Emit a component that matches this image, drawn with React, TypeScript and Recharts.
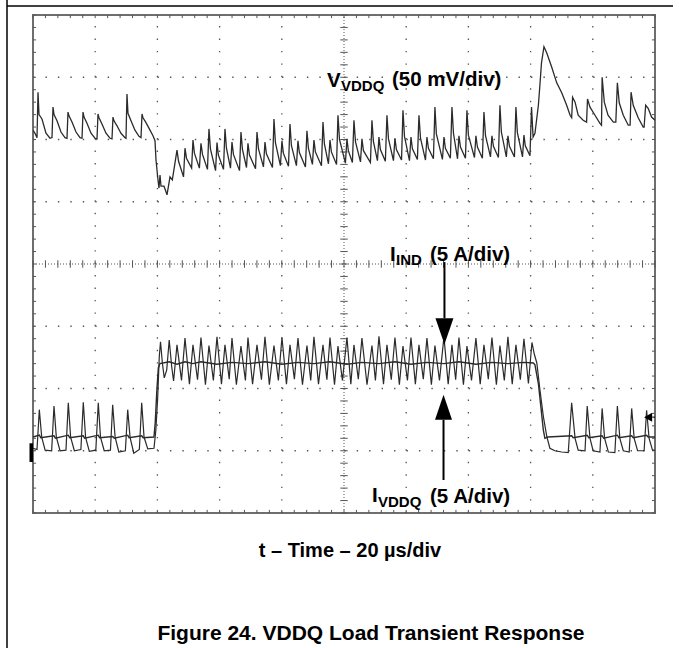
import React from 'react';
import { LineChart, Line, XAxis, YAxis, ReferenceLine, ReferenceArea } from 'recharts';

// scope screen: time in µs (20 µs/div, 10 div), traces in screen divisions (8 div)
const X_MAJOR = [20, 40, 60, 80, 120, 140, 160, 180];
const Y_MAJOR = [1, 2, 3, 5, 6, 7];
const X_MINOR = Array.from({ length: 51 }, (_, i) => i * 4);
const Y_MINOR = Array.from({ length: 41 }, (_, i) => Math.round(i * 2) / 10);

// V(VDDQ), 50 mV/div
const V_LIGHT_PRE = [
  [0, 6.15], [0.64, 6.1], [1.29, 6.03], [1.61, 6.76], [1.93, 6.4], [2.89, 6.33], [4.18, 6.1], [5.47, 6.02],
  [6.11, 6.03], [6.43, 6.52], [6.75, 6.4], [7.72, 6.3], [9.0, 6.12], [10.29, 6.03], [10.93, 6.02],
  [11.25, 6.44], [11.57, 6.38], [12.54, 6.28], [13.83, 6.12], [15.11, 6.03], [15.76, 6.02],
  [16.08, 6.44], [16.4, 6.36], [17.36, 6.26], [18.65, 6.1], [19.93, 6.02], [20.58, 6.01],
  [20.9, 6.41], [21.22, 6.35], [22.18, 6.25], [23.47, 6.1], [24.76, 6.02], [25.4, 6.01],
  [25.72, 6.36], [26.04, 6.3], [27.01, 6.22], [28.29, 6.1], [29.58, 6.03], [29.9, 6.02],
  [30.22, 6.73], [30.54, 6.42], [31.51, 6.3], [32.79, 6.15], [34.08, 6.05], [34.73, 6.03],
  [35.05, 6.41], [35.37, 6.35], [36.33, 6.27], [37.62, 6.15], [38.58, 6.06], [39.23, 5.98],
];
const V_LOAD_STEP = [
  [39.55, 5.67], [40.19, 5.35], [40.51, 5.22], [40.84, 5.43], [41.16, 5.25], [42.12, 5.25],
  [42.76, 5.16], [43.09, 5.11], [44.05, 5.4], [44.8, 5.35],
];
const V_HEAVY = [
  [46.3, 5.83], [46.8, 5.65], [48.4, 5.4], [48.87, 5.86], [49.35, 5.7], [51.0, 5.54],
  [51.44, 5.99], [51.9, 5.78], [53.5, 5.54], [54.01, 5.94], [54.5, 5.76], [56.1, 5.52],
  [56.58, 6.17], [57.05, 5.85], [58.7, 5.5], [59.16, 5.95], [59.6, 5.75], [61.25, 5.52],
  [61.73, 6.17], [62.2, 5.86], [63.5, 5.54], [63.98, 5.96], [64.45, 5.76], [66.4, 5.5],
  [66.87, 6.12], [67.35, 5.84], [68.65, 5.55], [69.12, 5.94], [69.6, 5.75], [71.55, 5.53],
  [72.02, 6.12], [72.5, 5.85], [74.1, 5.56], [74.59, 5.96], [75.05, 5.77], [77.0, 5.55],
  [77.48, 6.33], [77.95, 5.95], [79.55, 5.58], [80.05, 5.98], [80.5, 5.78], [82.15, 5.57],
  [82.63, 6.25], [83.1, 5.9], [84.7, 5.58], [85.2, 5.98], [85.65, 5.79], [87.6, 5.56],
  [88.09, 6.14], [88.55, 5.86], [89.85, 5.6], [90.34, 5.99], [90.8, 5.8], [92.75, 5.58],
  [93.24, 6.28], [93.7, 5.93], [95.0, 5.61], [95.49, 5.99], [95.95, 5.8], [97.6, 5.6],
  [98.06, 6.39], [98.55, 6.0], [100.45, 5.62], [100.95, 6.01], [101.4, 5.82], [102.7, 5.63],
  [103.2, 6.31], [103.7, 5.96], [105.3, 5.64], [105.77, 6.01], [106.25, 5.82], [108.5, 5.63],
  [108.99, 6.31], [109.45, 5.97], [110.75, 5.66], [111.24, 6.04], [111.7, 5.84], [113.3, 5.65],
  [113.81, 6.39], [114.3, 6.01], [115.9, 5.66], [116.38, 6.02], [116.85, 5.84], [118.5, 5.67],
  [118.96, 6.47], [119.45, 6.05], [121.05, 5.66], [121.53, 6.04], [122.0, 5.85], [123.6, 5.68],
  [124.1, 6.39], [124.6, 6.02], [126.2, 5.67], [126.67, 6.04], [127.15, 5.86], [128.75, 5.69],
  [129.24, 6.52], [129.7, 6.09], [131.65, 5.68], [132.14, 6.04], [132.6, 5.86], [134.2, 5.7],
  [134.71, 6.52], [135.2, 6.1], [136.5, 5.69], [136.96, 6.06], [137.45, 5.88], [139.05, 5.7],
  [139.53, 6.47], [140.0, 6.07], [141.95, 5.71], [142.42, 6.06], [142.9, 5.88], [144.5, 5.7],
  [145.0, 6.44], [145.5, 6.06], [147.1, 5.72], [147.57, 6.06], [148.05, 5.89], [149.65, 5.71],
  [150.14, 6.55], [150.6, 6.12], [152.2, 5.72], [152.71, 6.06], [153.2, 5.89], [154.8, 5.72],
  [155.28, 6.52], [155.75, 6.11], [157.4, 5.72], [157.86, 6.07], [158.3, 5.9], [159.8, 5.74],
];
const V_RELEASE = [
  [160.3, 6.52], [160.8, 6.04], [161.4, 6.1], [162.5, 6.55], [163.0, 6.88], [163.5, 7.23],
  [164.3, 7.49], [165.2, 7.39], [166.8, 7.16], [168.4, 6.91], [170.0, 6.75], [171.6, 6.55],
  [172.7, 6.39], [173.2, 6.35], [173.5, 6.68], [174.3, 6.6], [175.3, 6.39], [176.9, 6.31],
  [178.0, 6.28], [178.3, 6.65], [179.1, 6.52], [180.7, 6.39], [182.3, 6.26], [182.8, 6.23],
  [183.0, 7.0], [183.7, 6.6], [184.9, 6.39], [186.6, 6.28], [187.4, 6.28], [187.9, 6.91],
  [188.5, 6.59], [189.8, 6.39], [191.4, 6.23], [192.0, 6.23], [192.3, 6.76], [193.0, 6.55],
  [194.6, 6.35], [196.2, 6.2], [196.5, 6.2], [197.0, 6.55], [197.8, 6.5], [198.9, 6.36], [200, 6.31],
];

// I(IND), 5 A/div
const IND_LIGHT_PRE = [
  [0, 1.04], [1.29, 1.02], [2.03, 1.66], [2.8, 1.22], [3.9, 1.01], [6.0, 1.0], [6.75, 1.72],
  [7.5, 1.22], [8.7, 1.0], [10.6, 1.01], [11.35, 1.77], [12.1, 1.22], [13.3, 1.0], [15.4, 1.02],
  [16.17, 1.78], [16.9, 1.22], [18.1, 0.99], [20.2, 1.01], [20.99, 1.77], [21.7, 1.22], [22.9, 1.0],
  [24.9, 1.01], [25.62, 1.74], [26.4, 1.22], [27.6, 0.98], [29.7, 1.0], [30.45, 1.66], [31.2, 1.22],
  [32.4, 0.96], [34.2, 1.02], [34.95, 1.77], [35.7, 1.22], [36.9, 1.03], [38.9, 1.04],
];
const IND_STEP_UP = [
  [39.5, 1.33], [40.1, 1.86], [40.6, 2.51], [41.0, 2.75], [41.6, 2.41], [42.2, 2.17], [43.0, 2.3],
  [43.8, 2.78], [44.6, 2.35], [45.2, 2.12],
];
const IND_HEAVY = [
  [46.3, 2.7], [47.75, 2.13], [48.87, 2.81], [50.3, 2.07], [51.44, 2.7], [52.9, 2.14],
  [54.01, 2.82], [55.45, 2.06], [56.58, 2.69], [58.0, 2.13], [59.16, 2.83], [60.6, 2.07],
  [61.73, 2.7], [63.1, 2.15], [63.98, 2.81], [65.4, 2.06], [66.87, 2.68], [68.3, 2.13],
  [69.12, 2.82], [70.6, 2.07], [72.02, 2.7], [73.45, 2.14], [74.59, 2.83], [76.0, 2.06],
  [77.48, 2.69], [78.9, 2.13], [80.05, 2.82], [81.5, 2.07], [82.63, 2.7], [84.05, 2.15],
  [85.2, 2.81], [86.65, 2.06], [88.09, 2.69], [89.3, 2.13], [90.34, 2.83], [91.8, 2.07],
  [93.24, 2.7], [94.5, 2.14], [95.49, 2.82], [96.95, 2.06], [98.06, 2.68], [99.5, 2.13],
  [100.95, 2.82], [102.2, 2.07], [103.2, 2.7], [104.6, 2.15], [105.77, 2.81], [107.4, 2.06],
  [108.99, 2.69], [110.1, 2.13], [111.24, 2.84], [112.7, 2.07], [113.81, 2.7], [115.2, 2.14],
  [116.38, 2.82], [117.8, 2.06], [118.96, 2.68], [120.4, 2.13], [121.53, 2.82], [122.95, 2.07],
  [124.1, 2.7], [125.5, 2.15], [126.67, 2.81], [128.1, 2.06], [129.24, 2.69], [130.7, 2.13],
  [132.14, 2.83], [133.5, 2.07], [134.71, 2.7], [135.9, 2.14], [136.96, 2.82], [138.4, 2.06],
  [139.53, 2.68], [141.0, 2.13], [142.42, 2.81], [143.8, 2.07], [145.0, 2.7], [146.4, 2.15],
  [147.57, 2.82], [149.0, 2.06], [150.14, 2.69], [151.55, 2.13], [152.71, 2.83], [154.1, 2.07],
  [155.28, 2.7], [156.7, 2.14], [157.86, 2.8], [159.3, 2.08], [160.43, 2.74],
];
const IND_STEP_DOWN = [
  [161.2, 2.55], [162.0, 2.41], [163.0, 1.98], [164.1, 1.55], [165.2, 1.23], [166.2, 1.04],
  [167.8, 1.0], [170.0, 0.98], [172.1, 0.97],
];
const IND_LIGHT_POST = [
  [173.2, 1.77], [174.3, 1.2], [175.3, 1.01], [177.5, 1.0], [178.2, 1.72], [179.1, 1.2], [180.1, 1.0],
  [182.3, 0.98], [183.0, 1.68], [183.8, 1.2], [185.0, 0.98], [187.1, 0.97], [187.9, 1.72], [188.7, 1.2],
  [189.8, 1.0], [191.7, 0.98], [192.5, 1.68], [193.3, 1.2], [194.4, 1.0], [196.5, 1.0], [197.3, 1.65],
  [198.1, 1.2], [199.2, 1.01], [200, 1.01],
];

// I(VDDQ), 5 A/div
const LOAD_PRE = [
  [0, 1.22], [2.03, 1.25], [2.5, 1.21], [6.75, 1.24], [7.2, 1.2], [11.35, 1.25], [11.8, 1.21],
  [16.17, 1.24], [16.6, 1.2], [20.99, 1.25], [21.4, 1.21], [25.62, 1.23], [26.1, 1.2], [30.45, 1.25],
  [30.9, 1.21], [34.95, 1.24], [35.4, 1.21], [38.9, 1.22],
];
const LOAD_STEP_UP = [[39.3, 1.45], [39.8, 1.95], [40.3, 2.33], [40.8, 2.4]];
const LOAD_HIGH = [
  [43.8, 2.43], [46.3, 2.39], [48.87, 2.43], [51.44, 2.4], [54.01, 2.43], [59.16, 2.39], [63.98, 2.42],
  [69.12, 2.4], [74.59, 2.43], [80.05, 2.39], [85.2, 2.42], [90.34, 2.4], [95.49, 2.43], [100.95, 2.39],
  [105.77, 2.42], [111.24, 2.4], [116.38, 2.43], [121.53, 2.39], [126.67, 2.42], [132.14, 2.4],
  [136.96, 2.43], [142.42, 2.39], [147.57, 2.42], [152.71, 2.4], [157.86, 2.42], [160.9, 2.41],
];
const LOAD_STEP_DOWN = [[161.4, 2.38], [162.5, 2.08], [163.3, 1.71], [164.1, 1.33], [164.6, 1.2]];
const LOAD_POST = [
  [165.5, 1.22], [173.2, 1.24], [173.7, 1.21], [178.2, 1.25], [178.7, 1.21], [183.0, 1.24], [183.5, 1.2],
  [187.9, 1.25], [188.4, 1.21], [192.5, 1.24], [193.0, 1.21], [197.3, 1.25], [197.8, 1.22], [200, 1.22],
];

const toPts = (pairs: number[][]) => pairs.map(([t, v]) => ({ t, v }));

const VDDQ = toPts([...V_LIGHT_PRE, ...V_LOAD_STEP, ...V_HEAVY, ...V_RELEASE]);
const IND = toPts([...IND_LIGHT_PRE, ...IND_STEP_UP, ...IND_HEAVY, ...IND_STEP_DOWN, ...IND_LIGHT_POST]);
const LOAD = toPts([...LOAD_PRE, ...LOAD_STEP_UP, ...LOAD_HIGH, ...LOAD_STEP_DOWN, ...LOAD_POST]);

const TRACE = '#2b2b2b';
const GRID = '#555';
const FONT = '"Liberation Sans", Arial, Helvetica, sans-serif';

const arrowShape = (head: number, half: number, width: number) => (p: any) => {
  const { x1, y1, x2, y2 } = p;
  const len = Math.hypot(x2 - x1, y2 - y1) || 1;
  const ux = (x2 - x1) / len;
  const uy = (y2 - y1) / len;
  const bx = x2 - ux * head;
  const by = y2 - uy * head;
  const pts = `${x2},${y2} ${bx - uy * half},${by + ux * half} ${bx + uy * half},${by - ux * half}`;
  return (
    <g>
      <line x1={x1} y1={y1} x2={bx} y2={by} stroke="#000" strokeWidth={width} />
      <polygon points={pts} fill="#000" />
    </g>
  );
};

const channelMarker = (p: any) => (
  <rect x={p.x1 - 3.5} y={Math.min(p.y1, p.y2)} width={3.5} height={Math.abs(p.y2 - p.y1)} fill="#000" />
);

const tickLine = (key: string, a: { x: number; y: number }, b: { x: number; y: number }) => (
  <ReferenceLine key={key} segment={[a, b]} stroke={GRID} strokeWidth={1} />
);

export default function App() {
  return (
    <div style={{ position: 'absolute', left: 0, top: 0, width: 679, height: 648, background: '#fff' }}>
      <LineChart width={679} height={648} margin={{ top: 15, right: 24, bottom: 135, left: 33 }}>
        <XAxis dataKey="t" type="number" domain={[0, 200]} allowDataOverflow hide />
        <YAxis type="number" domain={[0, 8]} allowDataOverflow hide />

        {X_MAJOR.map((t) => (
          <ReferenceLine key={`gx${t}`} x={t} stroke={GRID} strokeWidth={1.3} strokeDasharray="1.4 11.05" />
        ))}
        {Y_MAJOR.map((v) => (
          <ReferenceLine key={`gy${v}`} y={v} stroke={GRID} strokeWidth={1.3} strokeDasharray="1.4 11.05" />
        ))}
        <ReferenceLine x={100} stroke={GRID} strokeWidth={1} strokeDasharray="1 2" />
        <ReferenceLine y={4} stroke={GRID} strokeWidth={1} strokeDasharray="1 2" />

        {X_MINOR.map((t) => tickLine(`cx${t}`, { x: t, y: 3.94 }, { x: t, y: 4.06 }))}
        {Y_MINOR.map((v) => tickLine(`cy${v}`, { x: 98.8, y: v }, { x: 101.2, y: v }))}
        {X_MINOR.map((t) => tickLine(`tx${t}`, { x: t, y: 8 }, { x: t, y: 7.95 }))}
        {X_MINOR.map((t) => tickLine(`bx${t}`, { x: t, y: 0 }, { x: t, y: 0.05 }))}
        {Y_MINOR.map((v) => tickLine(`ly${v}`, { x: 0, y: v }, { x: 0.96, y: v }))}
        {Y_MINOR.map((v) => tickLine(`ry${v}`, { x: 200, y: v }, { x: 199.04, y: v }))}

        <ReferenceArea x1={0} x2={200} y1={0} y2={8} fill="none" stroke="#6e6e6e" strokeWidth={2} />

        <Line data={VDDQ} dataKey="v" type="linear" dot={false} stroke={TRACE} strokeWidth={1.3} isAnimationActive={false} />
        <Line data={LOAD} dataKey="v" type="linear" dot={false} stroke={TRACE} strokeWidth={1.4} isAnimationActive={false} />
        <Line data={IND} dataKey="v" type="linear" dot={false} stroke={TRACE} strokeWidth={1.2} isAnimationActive={false} />

        <ReferenceLine segment={[{ x: 132.3, y: 4.03 }, { x: 132.3, y: 2.71 }]} shape={arrowShape(26, 9, 2)} />
        <ReferenceLine segment={[{ x: 132.0, y: 0.53 }, { x: 132.0, y: 1.9 }]} shape={arrowShape(25, 8.5, 2)} />
        <ReferenceLine segment={[{ x: 200, y: 1.54 }, { x: 196.5, y: 1.54 }]} shape={arrowShape(8, 4.5, 1)} />
        <ReferenceLine segment={[{ x: 0, y: 0.82 }, { x: 0, y: 1.12 }]} shape={channelMarker} />
      </LineChart>

      <svg
        width={679}
        height={648}
        style={{ position: 'absolute', left: 0, top: 0, pointerEvents: 'none' }}
        fontFamily={FONT}
        fontWeight="bold"
        fill="#000"
      >
        <line x1={7} y1={0} x2={7} y2={648} stroke="#000" strokeWidth={1.5} />
        <line x1={7} y1={6} x2={673} y2={6} stroke="#000" strokeWidth={1.5} />

        <text x={327} y={87} fontSize={20.5}>V</text>
        <text x={341} y={91} fontSize={15}>VDDQ</text>
        <text x={392} y={86} fontSize={20.5}>(50 mV/div)</text>

        <text x={390} y={261} fontSize={20.5}>I</text>
        <text x={396} y={265} fontSize={15}>IND</text>
        <text x={430} y={261} fontSize={20.5}>(5 A/div)</text>

        <text x={372} y={502} fontSize={20.5}>I</text>
        <text x={378} y={507} fontSize={15}>VDDQ</text>
        <text x={430} y={503} fontSize={20.5}>(5 A/div)</text>

        <text x={350} y={557} fontSize={20} textAnchor="middle">t – Time – 20 µs/div</text>
        <text x={371} y={640} fontSize={21} textAnchor="middle">Figure 24. VDDQ Load Transient Response</text>
      </svg>
    </div>
  );
}
